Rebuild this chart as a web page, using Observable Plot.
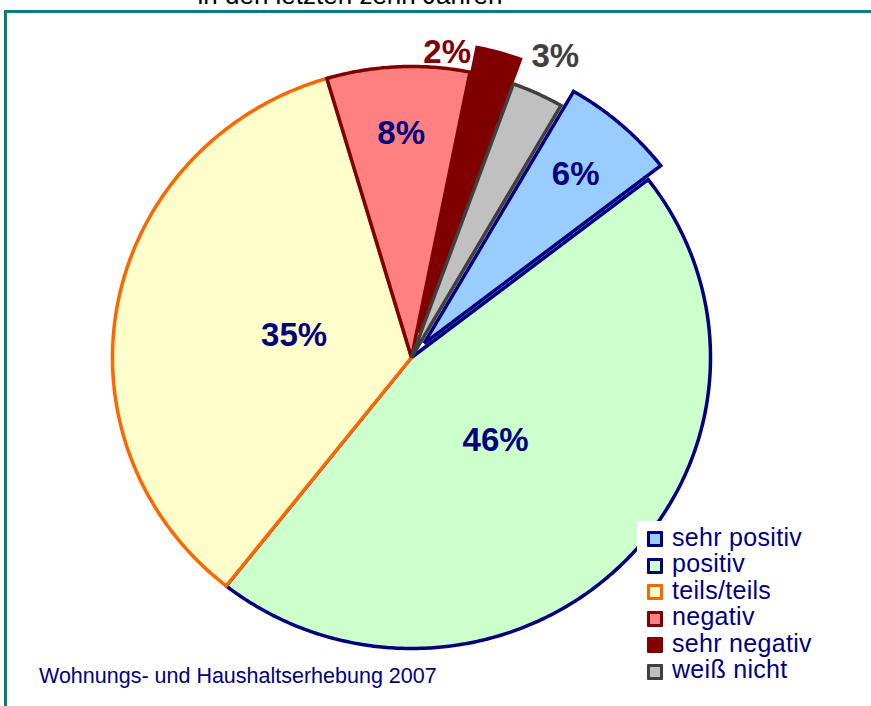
<!DOCTYPE html>
<html>
<head>
<meta charset="utf-8">
<script src="https://cdn.jsdelivr.net/npm/d3@7"></script>
<script src="https://cdn.jsdelivr.net/npm/@observablehq/plot@0.6"></script>
<style>
  html, body { margin: 0; padding: 0; background: #fff; }
  #wrap { position: relative; width: 871px; height: 706px; overflow: hidden; font-family: "Liberation Sans", Arial, sans-serif; }
  #frame { position: absolute; left: 4px; top: 10px; width: 867px; height: 696px; border-left: 3px solid #008080; border-top: 3px solid #008080; box-sizing: border-box; }
  #chart { position: absolute; left: 0; top: 0; }
  #title { position: absolute; left: 0; width: 700px; text-align: center; top: -18px; font-size: 26px; line-height: 1; color: #000; white-space: nowrap; }
  #caption { position: absolute; left: 39px; top: 666px; font-size: 21.5px; line-height: 1; color: #000080; white-space: nowrap; }
  #legend { position: absolute; left: 637px; top: 521px; width: 178px; height: 168px; background: #fff; padding-top: 4.75px; box-sizing: border-box; }
  .row { display: flex; align-items: center; height: 26.5px; padding-left: 10px; }
  .sw { width: 16px; height: 16px; box-sizing: border-box; border: 3px solid; border-radius: 1px; flex: none; }
  .lt { margin-left: 9px; font-size: 25px; line-height: 1; color: #000080; white-space: nowrap; letter-spacing: 0.3px; position: relative; top: -2px; }
</style>
</head>
<body>
<div id="wrap">
  <div id="frame"></div>
  <div id="chart"></div>
  <div id="title">in den letzten zehn Jahren</div>
  <div id="legend"></div>
  <div id="caption">Wohnungs- und Haushaltserhebung 2007</div>
</div>
<script>
// ---- data ----
const categories = ["sehr positiv", "positiv", "teils/teils", "negativ", "sehr negativ", "weiß nicht"];
const shares = [6.2, 46.1, 34.8, 7.7, 2.4, 2.8];

// ---- style ----
const fills = ["#99CCFF", "#CCFFCC", "#FFFFCC", "#FF8080", "#800000", "#C0C0C0"];
const strokes = ["#000080", "#000080", "#FF6600", "#800000", "#800000", "#404040"];
const labelColors = ["#000080", "#000080", "#000080", "#000080", "#800000", "#404040"];
const explode = [0.064, 0, 0, 0, 0.088, 0];
const startAngle = 30; // degrees clockwise from 12 o'clock
const font = "'Liberation Sans', Arial, sans-serif";

const total = d3.sum(shares);
const rad = a => a * Math.PI / 180;
let acc = startAngle;
const slices = categories.map((name, i) => {
  const a0 = acc, a1 = acc + shares[i] / total * 360;
  acc = a1;
  const mid = (a0 + a1) / 2;
  const ox = explode[i] * Math.sin(rad(mid)), oy = explode[i] * Math.cos(rad(mid));
  const pts = [{x: ox, y: oy}];
  const n = Math.max(2, Math.ceil((a1 - a0) / 0.5));
  for (let k = 0; k <= n; k++) {
    const a = rad(a0 + (a1 - a0) * k / n);
    pts.push({x: ox + Math.sin(a), y: oy + Math.cos(a)});
  }
  pts.push({x: ox, y: oy});
  return {name, i, a0, a1, mid, ox, oy, pts, frac: shares[i] / total};
});

// label placement derived from geometry
const labels = slices.map((s, i) => {
  const text = Math.round(shares[i]) + "%";
  const small = s.frac < 0.05;
  const next = slices[(i + 1) % slices.length];
  if (!small) {
    const r = s.frac > 0.2 ? 0.4 : 0.77;
    return {mode: "center", text, color: labelColors[i],
      x: s.ox + r * Math.sin(rad(s.mid)), y: s.oy + r * Math.cos(rad(s.mid))};
  }
  if (next.frac < 0.05) {
    // neighbour also labelled outside: put label beside the slice's leading edge
    return {mode: "beside", text, color: labelColors[i],
      x: s.ox + Math.sin(rad(s.a0)), y: s.oy + Math.cos(rad(s.a0))};
  }
  const r = 1.14;
  return {mode: "center", text, color: labelColors[i],
    x: s.ox + r * Math.sin(rad(s.mid)), y: s.oy + r * Math.cos(rad(s.mid))};
});

const marks = slices.map(s => Plot.line(s.pts, {
  x: "x", y: "y", fill: fills[s.i], stroke: strokes[s.i], strokeWidth: 3.5,
  strokeLinejoin: "miter", strokeMiterlimit: 10, strokeLinecap: "butt", curve: "linear"
}));

marks.push(Plot.text(labels.filter(d => d.mode === "center"), {
  x: "x", y: "y", text: "text", fill: "color", fontSize: 33, fontWeight: "bold",
  fontFamily: font, textAnchor: "middle", lineAnchor: "middle"
}));
marks.push(Plot.text(labels.filter(d => d.mode === "beside"), {
  x: "x", y: "y", text: "text", fill: "color", fontSize: 33, fontWeight: "bold",
  fontFamily: font, textAnchor: "end", lineAnchor: "middle", dx: -6, dy: 5
}));

const chart = Plot.plot({
  width: 871, height: 706,
  margin: 0,
  x: {domain: [-1, 1], range: [112, 710], axis: null},
  y: {domain: [-1, 1], range: [648, 66], axis: null},
  color: {type: "identity"},
  style: {background: "transparent", overflow: "visible"},
  marks
});
document.getElementById("chart").appendChild(chart);

// legend
const legend = document.getElementById("legend");
categories.forEach((c, i) => {
  const row = document.createElement("div");
  row.className = "row";
  const sw = document.createElement("div");
  sw.className = "sw";
  sw.style.background = fills[i];
  sw.style.borderColor = strokes[i];
  const t = document.createElement("span");
  t.className = "lt";
  t.textContent = c;
  row.appendChild(sw); row.appendChild(t);
  legend.appendChild(row);
});
</script>
</body>
</html>
